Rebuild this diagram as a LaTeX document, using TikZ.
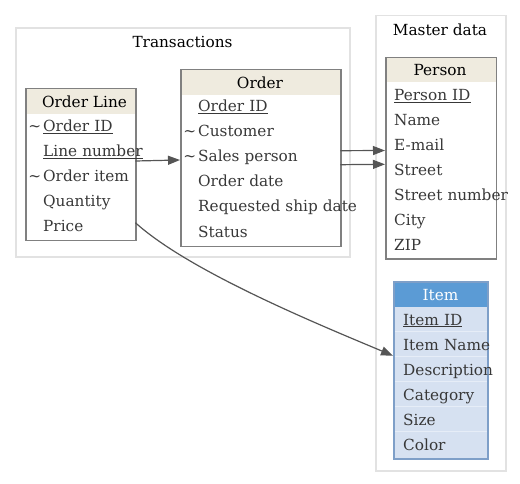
\documentclass[tikz,border=0pt]{standalone}
\usepackage{fontspec}
\setmainfont{DejaVu Serif}
\usetikzlibrary{arrows.meta}
\definecolor{hdr}{HTML}{EFEBDF}
\definecolor{clgray}{HTML}{E2E2E2}
\definecolor{tbgray}{HTML}{808080}
\definecolor{rowtxt}{HTML}{383838}
\definecolor{edgec}{HTML}{555555}
\definecolor{ihdr}{HTML}{5B9BD5}
\definecolor{ibody}{HTML}{D6E1F1}
\definecolor{iline}{HTML}{7E9FC8}
\definecolor{isep}{HTML}{E6EDF7}
\newcommand{\tl}{\llap{\textasciitilde\hspace{2pt}}}
\newcommand{\ul}[1]{\underline{#1}}
\newcommand{\rw}[2]{\hspace*{#1}\mbox{#2}}
\begin{document}
\begin{tikzpicture}[x=1pt,y=-1pt,font=\fontsize{15.3}{18}\selectfont,
  cluster/.style={draw=clgray,line width=1.5pt,anchor=north west,inner sep=0pt},
  tbox/.style={draw=tbgray,line width=1.5pt,anchor=north west,inner sep=0pt},
  ibox/.style={draw=iline,line width=1.5pt,anchor=north west,inner sep=0pt},
  rowtext/.style={anchor=base west,inner xsep=0pt,inner ysep=0pt,text height=12pt,text depth=3pt,text=rowtxt,align=left},
  head/.style={anchor=base,inner sep=0pt,text=black},
  title/.style={anchor=base,inner sep=0pt,text=black},
  edge/.style={draw=edgec,line width=1.2pt,-{Triangle[length=12pt,width=9pt]}}]
\useasboundingbox (0,0) rectangle (520,484);

% clusters
\node[cluster,minimum width=334pt,minimum height=229pt] (trans) at (15,27.3) {};
\node[title] (transT) at (182.5,47.3) {Transactions};
\node[cluster,minimum width=130pt,minimum height=455pt] (master) at (375,15) {};
\node[title] (masterT) at (440,36) {Master data};

% Order Line
\fill[hdr] (25,87.7) rectangle (135,114);
\node[tbox,minimum width=110pt,minimum height=152.3pt] (ol) at (25,87.7) {};
\node[head] (olH) at (84.5,107.3) {Order Line};
\node[rowtext,text width=110pt] (olid) at (25,132) {\rw{18pt}{\tl\ul{Order ID}}};
\node[rowtext,text width=110pt] (olln) at (25,157) {\rw{18pt}{\ul{Line number}}};
\node[rowtext,text width=110pt] (olit) at (25,182) {\rw{18pt}{\tl Order item}};
\node[rowtext,text width=110pt] (olqt) at (25,207) {\rw{18pt}{Quantity}};
\node[rowtext,text width=110pt] (olpr) at (25,232) {\rw{18pt}{Price}};

% Order
\fill[hdr] (180,69) rectangle (340,95);
\node[tbox,minimum width=160pt,minimum height=177pt] (ord) at (180,69) {};
\node[head] (ordH) at (260,88.3) {Order};
\node[rowtext,text width=160pt] (ordid) at (180,112) {\rw{18pt}{\ul{Order ID}}};
\node[rowtext,text width=160pt] (ordcu) at (180,137) {\rw{18pt}{\tl Customer}};
\node[rowtext,text width=160pt] (ordsp) at (180,162) {\rw{18pt}{\tl Sales person}};
\node[rowtext,text width=160pt] (orddt) at (180,187) {\rw{18pt}{Order date}};
\node[rowtext,text width=160pt] (ordrs) at (180,212) {\rw{18pt}{Requested ship date}};
\node[rowtext,text width=160pt] (ordst) at (180,237) {\rw{18pt}{Status}};

% Person
\fill[hdr] (385,56.7) rectangle (495.5,81.7);
\node[tbox,minimum width=110.5pt,minimum height=201.6pt] (per) at (385,56.7) {};
\node[head] (perH) at (440,75.7) {Person};
\node[rowtext,text width=110.5pt] (perid) at (385,100.7) {\rw{9pt}{\ul{Person ID}}};
\node[rowtext,text width=110.5pt] (pernm) at (385,125.7) {\rw{9pt}{Name}};
\node[rowtext,text width=110.5pt] (perem) at (385,150.7) {\rw{9pt}{E-mail}};
\node[rowtext,text width=110.5pt] (perst) at (385,175.7) {\rw{9pt}{Street}};
\node[rowtext,text width=110.5pt] (persn) at (385,200.7) {\rw{9pt}{Street number}};
\node[rowtext,text width=110.5pt] (perci) at (385,225.7) {\rw{9pt}{City}};
\node[rowtext,text width=110.5pt] (perzp) at (385,250.7) {\rw{9pt}{ZIP}};

% Item
\fill[ibody] (393,281) rectangle (487,458.3);
\fill[ihdr] (393,281) rectangle (487,306.7);
\foreach \yy in {331.7,356.7,381.7,406.7,431.7}
  \draw[isep,line width=1pt] (393,\yy) -- (487,\yy);
\node[ibox,minimum width=94pt,minimum height=177.3pt] (itm) at (393,281) {};
\node[head,text=white] (itmH) at (440.5,300.7) {Item};
\node[rowtext,text width=94pt] (itid) at (393,325) {\rw{10pt}{\ul{Item ID}}};
\node[rowtext,text width=94pt] (itnm) at (393,350) {\rw{10pt}{Item Name}};
\node[rowtext,text width=94pt] (itds) at (393,375) {\rw{10pt}{Description}};
\node[rowtext,text width=94pt] (itct) at (393,400) {\rw{10pt}{Category}};
\node[rowtext,text width=94pt] (itsz) at (393,425) {\rw{10pt}{Size}};
\node[rowtext,text width=94pt] (itcl) at (393,450) {\rw{10pt}{Color}};

% edges
\draw[edge] ([yshift=-8.5pt]olln.east) -- ([yshift=-2.5pt]ordsp.west);
\draw[edge] ([yshift=6.8pt]ordsp.east) -- ([yshift=-4.3pt]perem.west);
\draw[edge] ([yshift=-7.2pt]ordsp.east) -- ([yshift=6.9pt]perst.west);
\draw[edge] ([yshift=4.8pt]olpr.east) .. controls (190,272) and (320,325) .. ([yshift=-10.2pt]itnm.west);
\end{tikzpicture}
\end{document}
